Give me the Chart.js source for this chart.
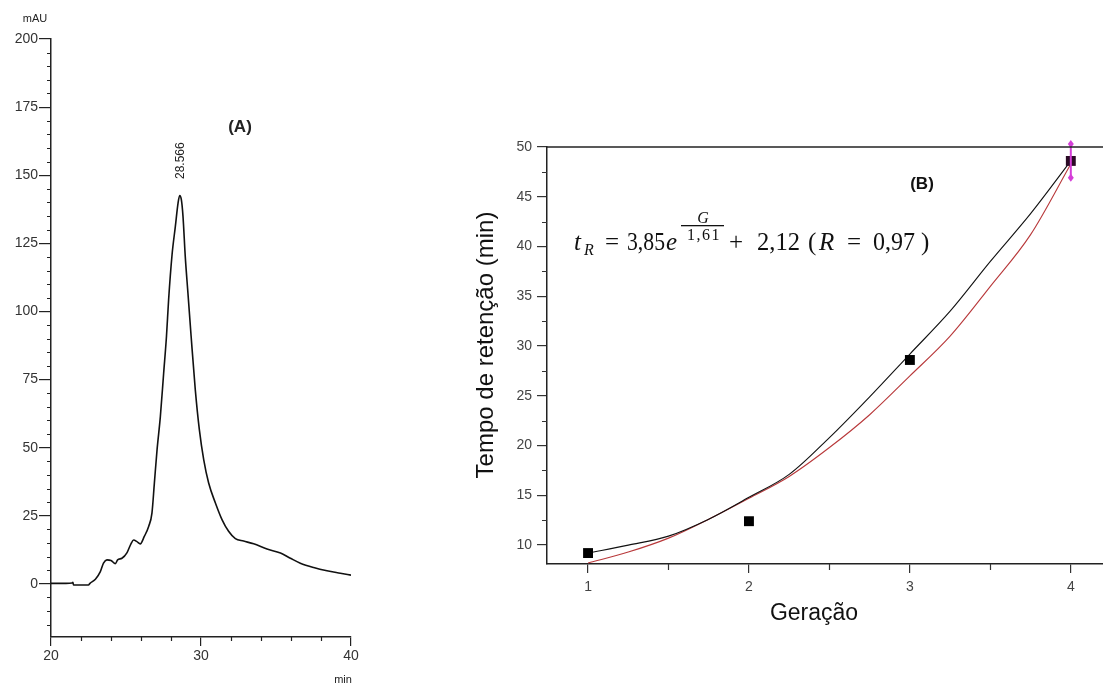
<!DOCTYPE html>
<html>
<head>
<meta charset="utf-8">
<script src="https://cdn.jsdelivr.net/npm/chart.js@4.4.1/dist/chart.umd.min.js"></script>
<style>
  body { margin: 0; background: #fff; width: 1103px; height: 684px; overflow: hidden; position: relative; }
  #boxA { position: absolute; left: 0; top: 0; width: 400px; height: 684px; }
  #boxB { position: absolute; left: 440px; top: 0; width: 663px; height: 684px; }
</style>
</head>
<body>
<div id="boxA"><canvas id="chartA"></canvas></div>
<div id="boxB"><canvas id="chartB"></canvas></div>
<script>
// (A) chromatogram
const timeA = [20, 21, 21.4, 21.46, 21.5, 22.0, 22.5, 22.6, 22.96, 23.29, 23.5, 23.73, 24.0, 24.29, 24.44, 24.73,
  25.07, 25.33, 25.51, 25.73, 25.95, 26.22, 26.51, 26.73, 26.89, 27.07, 27.29, 27.51, 27.7, 27.84, 28.07, 28.29,
  28.47, 28.58, 28.69, 28.8, 28.95, 29.13, 29.34, 29.62, 29.89, 30.18, 30.51, 30.96, 31.4, 31.84, 32.29, 32.84,
  33.51, 34.4, 35.3, 35.96, 36.62, 37.51, 38.4, 39.29, 40];
const mAU = [0.2, 0.2, 0.3, 0.6, -0.4, -0.4, -0.4, 0.2, 1.7, 4.5, 7.6, 8.8, 8.6, 7.4, 8.8, 9.4,
  11.5, 14.7, 16.1, 15.5, 14.7, 17.4, 21.1, 26, 36.9, 49.2, 61.4, 77.3, 91, 104.2, 120.8, 131.2,
  139.8, 142.5, 141, 134.9, 120.2, 106.7, 91, 71.2, 56.6, 45.6, 37, 29.7, 23.6, 19.3, 16.6, 15.7,
  14.7, 12.8, 11.3, 9.4, 7.6, 6.0, 4.8, 3.9, 3.2];
const peakTime = 28.566;
const xTicksA = [20, 30, 40];
const yTicksA = [0, 25, 50, 75, 100, 125, 150, 175, 200];

// (B) retention time vs generation
const generations = [1, 2, 3, 4];
const retention = [9.2, 12.4, 28.6, 48.6];
const retentionErr = [0, 0, 0, 1.7];
const fitG = [1, 1.25, 1.5, 1.75, 2, 2.25, 2.5, 2.75, 3, 3.25, 3.5, 3.75, 4];
const curveBlack = [9.2, 10.0, 10.9, 12.6, 14.8, 17.1, 20.8, 24.9, 29.2, 33.5, 38.5, 43.3, 48.6];
const curveRed = [8.2, 9.3, 10.7, 12.6, 14.7, 16.9, 19.8, 23.1, 27.0, 31.0, 36.0, 41.2, 48.3];
const xTicksB = [1, 2, 3, 4];
const yTicksB = [10, 15, 20, 25, 30, 35, 40, 45, 50];

const sans = 'Liberation Sans, Arial, sans-serif';
const serif = 'Liberation Serif, Times New Roman, serif';

// minor tick marks, drawn through the chart scales
const minorTicks = {
  id: 'minorTicks',
  afterDraw(chart, args, o) {
    const { ctx, chartArea: a, scales: { x, y } } = chart;
    ctx.save();
    ctx.strokeStyle = o.color;
    ctx.lineWidth = 1.2;
    ctx.beginPath();
    o.xMinor.forEach(v => {
      const px = Math.round(x.getPixelForValue(v)) + 0.5;
      ctx.moveTo(px, a.bottom);
      ctx.lineTo(px, a.bottom + o.xLen);
    });
    o.yMinor.forEach(v => {
      const py = Math.round(y.getPixelForValue(v)) + 0.5;
      ctx.moveTo(a.left, py);
      ctx.lineTo(a.left - o.yLen, py);
    });
    ctx.stroke();
    if (o.topLine) {
      ctx.lineWidth = 1.5;
      ctx.strokeStyle = '#222';
      ctx.beginPath();
      ctx.moveTo(a.left, a.top);
      ctx.lineTo(a.right, a.top);
      ctx.stroke();
    }
    ctx.restore();
  }
};

const labelsA = {
  id: 'labelsA',
  afterDraw(chart) {
    const { ctx, scales: { x, y } } = chart;
    ctx.save();
    ctx.fillStyle = '#222';
    ctx.textAlign = 'center';
    ctx.textBaseline = 'middle';
    ctx.font = '11px ' + sans;
    ctx.fillText('mAU', 35, 19);
    ctx.fillText('min', 343, 680);
    ctx.font = 'bold 17px ' + sans;
    ctx.fillText('(A)', 240, 127);
    // retention time of the peak, rotated
    ctx.font = '12px ' + sans;
    ctx.translate(x.getPixelForValue(peakTime) + 1, y.getPixelForValue(Math.max(...mAU)) - 35);
    ctx.rotate(-Math.PI / 2);
    ctx.fillText(peakTime.toFixed(3), 0, 0);
    ctx.restore();
  }
};

const labelsB = {
  id: 'labelsB',
  afterDatasetsDraw(chart) {
    const { ctx, scales: { x, y } } = chart;
    ctx.save();
    // error bars
    ctx.strokeStyle = '#d53fd8';
    ctx.fillStyle = '#d53fd8';
    ctx.lineWidth = 2;
    generations.forEach((g, i) => {
      if (!retentionErr[i]) return;
      const px = x.getPixelForValue(g);
      const top = y.getPixelForValue(retention[i] + retentionErr[i]);
      const bot = y.getPixelForValue(retention[i] - retentionErr[i]);
      ctx.beginPath();
      ctx.moveTo(px, top);
      ctx.lineTo(px, bot);
      ctx.stroke();
      [top, bot].forEach(py => {
        ctx.beginPath();
        ctx.moveTo(px, py - 4);
        ctx.lineTo(px + 3, py);
        ctx.lineTo(px, py + 4);
        ctx.lineTo(px - 3, py);
        ctx.closePath();
        ctx.fill();
      });
    });
    ctx.restore();
  },
  afterDraw(chart) {
    const ctx = chart.ctx;
    const ox = -440;
    ctx.save();
    ctx.fillStyle = '#111';
    ctx.textBaseline = 'alphabetic';
    ctx.textAlign = 'center';
    ctx.font = 'bold 17px ' + sans;
    ctx.fillText('(B)', 922 + ox, 189);
    // axis titles
    ctx.font = '23px ' + sans;
    ctx.textBaseline = 'middle';
    ctx.fillText('Geração', 814 + ox, 614);
    ctx.save();
    ctx.translate(486 + ox, 345);
    ctx.rotate(-Math.PI / 2);
    ctx.font = '24px ' + sans;
    ctx.fillText('Tempo de retenção (min)', 0, 0);
    ctx.restore();
    // fitted equation
    ctx.textBaseline = 'alphabetic';
    ctx.textAlign = 'left';
    const base = 250;
    const put = (t, px, py, f, w) => {
      ctx.font = f;
      if (w) ctx.fillText(t, px + ox, py, w); else ctx.fillText(t, px + ox, py);
    };
    put('t', 574, base, 'italic 25px ' + serif);
    put('R', 584, base + 5, 'italic 16px ' + serif);
    put('=', 605, base, '25px ' + serif, 18);
    put('3,85', 627, base, '25px ' + serif, 38);
    put('e', 666, base, 'italic 25px ' + serif);
    ctx.textAlign = 'center';
    put('G', 703, 223, 'italic 16px ' + serif);
    ctx.letterSpacing = '1.5px';
    put('1,61', 704, 240, '16px ' + serif);
    ctx.letterSpacing = '0px';
    ctx.fillRect(681 + ox, 225, 43, 1.3);
    ctx.textAlign = 'left';
    put('+', 729, base, '25px ' + serif);
    put('2,12', 757, base, '25px ' + serif, 43);
    put('(', 808, base, '25px ' + serif);
    put('R', 819, base, 'italic 25px ' + serif);
    put('=', 847, base, '25px ' + serif, 19);
    put('0,97', 873, base, '25px ' + serif, 42);
    put(')', 921, base, '25px ' + serif);
    ctx.restore();
  }
};

const minorYA = [];
for (let v = -15; v < 200; v += 5) if (v % 25 !== 0) minorYA.push(v);

new Chart(document.getElementById('chartA'), {
  type: 'line',
  data: {
    datasets: [{
      data: timeA.map((t, i) => ({ x: t, y: mAU[i] })),
      borderColor: '#111',
      borderWidth: 1.6,
      pointRadius: 0,
      cubicInterpolationMode: 'monotone'
    }]
  },
  options: {
    animation: false,
    responsive: true,
    maintainAspectRatio: false,
    layout: { autoPadding: false, padding: { top: 39, right: 49, left: 0, bottom: 0 } },
    plugins: {
      legend: { display: false },
      tooltip: { enabled: false },
      minorTicks: { color: '#222', xMinor: [22, 24, 26, 28, 32, 34, 36, 38], yMinor: minorYA, xLen: 4, yLen: 4 }
    },
    scales: {
      x: {
        type: 'linear', min: 20, max: 40,
        afterBuildTicks: s => { s.ticks = xTicksA.map(v => ({ value: v })); },
        afterFit: s => { s.height = 47; },
        grid: { drawOnChartArea: false, tickLength: 9, color: '#222', lineWidth: 1.2 },
        border: { color: '#222', width: 1.5 },
        ticks: { font: { family: sans, size: 14 }, color: '#333', padding: 2, maxRotation: 0 }
      },
      y: {
        type: 'linear', min: -19.5, max: 200,
        afterBuildTicks: s => { s.ticks = yTicksA.map(v => ({ value: v })); },
        afterFit: s => { s.width = 51; },
        grid: { drawOnChartArea: false, tickLength: 12, color: '#222', lineWidth: 1.2 },
        border: { color: '#222', width: 1.5 },
        ticks: { font: { family: sans, size: 14 }, color: '#333', padding: 1 }
      }
    }
  },
  plugins: [minorTicks, labelsA]
});

new Chart(document.getElementById('chartB'), {
  type: 'line',
  data: {
    datasets: [
      {
        label: 'Dados',
        data: generations.map((g, i) => ({ x: g, y: retention[i] })),
        showLine: false,
        pointStyle: 'rect',
        pointRadius: 7,
        pointBackgroundColor: ['#000', '#000', '#000', '#2a0a25'],
        pointBorderWidth: 0
      },
      {
        label: 'Curva',
        data: fitG.map((g, i) => ({ x: g, y: curveBlack[i] })),
        borderColor: '#111',
        borderWidth: 1.1,
        pointRadius: 0,
        cubicInterpolationMode: 'monotone'
      },
      {
        label: 'Ajuste',
        data: fitG.map((g, i) => ({ x: g, y: curveRed[i] })),
        borderColor: '#b8383a',
        borderWidth: 1.1,
        pointRadius: 0,
        cubicInterpolationMode: 'monotone'
      }
    ]
  },
  options: {
    animation: false,
    responsive: true,
    maintainAspectRatio: false,
    layout: { autoPadding: false, padding: { top: 147, right: 0, left: 0, bottom: 0 } },
    plugins: {
      legend: { display: false },
      tooltip: { enabled: false },
      minorTicks: { color: '#333', xMinor: [1.5, 2.5, 3.5], yMinor: [12.5, 17.5, 22.5, 27.5, 32.5, 37.5, 42.5, 47.5], xLen: 6, yLen: 5, topLine: true }
    },
    scales: {
      x: {
        type: 'linear', min: 0.745, max: 4.2,
        afterBuildTicks: s => { s.ticks = xTicksB.map(v => ({ value: v })); },
        afterFit: s => { s.height = 120; },
        grid: { drawOnChartArea: false, tickLength: 9, color: '#333', lineWidth: 1.2 },
        border: { color: '#222', width: 1.5 },
        ticks: { font: { family: sans, size: 14 }, color: '#444', padding: 6, maxRotation: 0 }
      },
      y: {
        type: 'linear', min: 8.1, max: 50,
        afterBuildTicks: s => { s.ticks = yTicksB.map(v => ({ value: v })); },
        afterFit: s => { s.width = 107; },
        grid: { drawOnChartArea: false, tickLength: 10, color: '#333', lineWidth: 1.2 },
        border: { color: '#222', width: 1.5 },
        ticks: { font: { family: sans, size: 14 }, color: '#444', padding: 5 }
      }
    }
  },
  plugins: [minorTicks, labelsB]
});
</script>
</body>
</html>
